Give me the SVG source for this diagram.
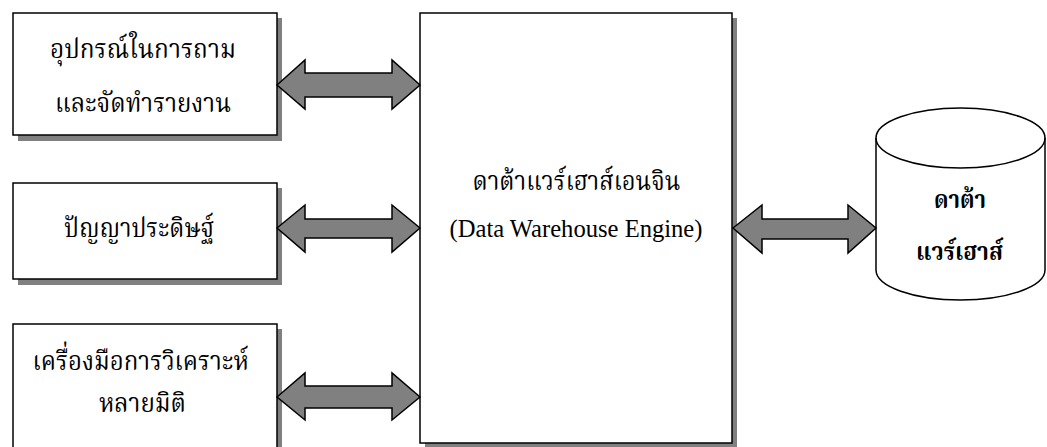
<svg xmlns="http://www.w3.org/2000/svg" width="1047" height="447" viewBox="0 0 1047 447">
  <style>
    .box { fill: #ffffff; stroke: #000000; stroke-width: 1.5; }
    .shadow { fill: #808080; }
    .arrow { fill: #808080; stroke: #000000; stroke-width: 1.5; stroke-linejoin: miter; }
    .th { font-family: "Norasi", "Noto Serif Thai", "Noto Sans Thai Looped", "Noto Sans Thai", "Liberation Serif", "DejaVu Serif", serif; font-size: 27px; fill: #000000; text-anchor: middle; }
    .en { font-family: "Liberation Serif", "Times New Roman", serif; font-size: 24.6px; fill: #000000; text-anchor: middle; }
    .bold { font-weight: bold; font-size: 25px; }
  </style>
  <rect width="1047" height="447" fill="#ffffff"/>

  <g id="node-query-report">
    <rect class="shadow" x="18" y="18" width="264" height="123"/>
    <rect class="box" x="13" y="13" width="264" height="122"/>
    <text class="th" x="143" y="58" textLength="186" lengthAdjust="spacingAndGlyphs">อุปกรณ์ในการถาม</text>
    <text class="th" x="143" y="112" textLength="176" lengthAdjust="spacingAndGlyphs">และจัดทำรายงาน</text>
  </g>

  <g id="node-ai">
    <rect class="shadow" x="18" y="188" width="264" height="97"/>
    <rect class="box" x="13" y="183" width="264" height="96"/>
    <text class="th" x="139" y="237" textLength="150" lengthAdjust="spacingAndGlyphs">ปัญญาประดิษฐ์</text>
  </g>

  <g id="node-olap">
    <rect class="shadow" x="18" y="329" width="264" height="130"/>
    <rect class="box" x="13" y="324" width="264" height="130"/>
    <text class="th" x="140.5" y="370" textLength="216" lengthAdjust="spacingAndGlyphs">เครื่องมือการวิเคราะห์</text>
    <text class="th" x="142.5" y="412" textLength="87" lengthAdjust="spacingAndGlyphs">หลายมิติ</text>
  </g>

  <g id="node-engine">
    <rect class="shadow" x="425" y="18" width="312" height="430"/>
    <rect class="box" x="420" y="13" width="312" height="430"/>
    <text class="th" x="576.5" y="190" textLength="208" lengthAdjust="spacingAndGlyphs">ดาต้าแวร์เฮาส์เอนจิน</text>
    <text class="en" x="576" y="237">(Data Warehouse Engine)</text>
  </g>

  <g id="node-warehouse">
    <path class="box" d="M876,138 L876,270 A84.5,30 0 0 0 1045,270 L1045,138 A84.5,30 0 0 0 876,138 Z"/>
    <path fill="none" stroke="#000000" stroke-width="1.5" d="M876,138 A84.5,30 0 0 0 1045,138"/>
    <text class="th bold" x="960" y="208" textLength="52" lengthAdjust="spacingAndGlyphs">ดาต้า</text>
    <text class="th bold" x="959.5" y="260" textLength="87" lengthAdjust="spacingAndGlyphs">แวร์เฮาส์</text>
  </g>

  <g id="connectors">
    <!-- double-headed block arrows, tip-to-tip -->
    <path class="arrow" d="M277,85 L305,60 L305,73 L392,73 L392,60 L420,85 L392,109 L392,97 L305,97 L305,109 Z"/>
    <path class="arrow" d="M277,228 L305,205 L305,219 L392,219 L392,205 L420,228 L392,252 L392,238 L305,238 L305,252 Z"/>
    <path class="arrow" d="M277,397 L305,373 L305,386 L392,386 L392,373 L420,397 L392,420 L392,408 L305,408 L305,420 Z"/>
    <path class="arrow" d="M733,228 L762,205 L762,219 L848,219 L848,205 L876,228 L848,253 L848,239 L762,239 L762,253 Z"/>
  </g>
</svg>
